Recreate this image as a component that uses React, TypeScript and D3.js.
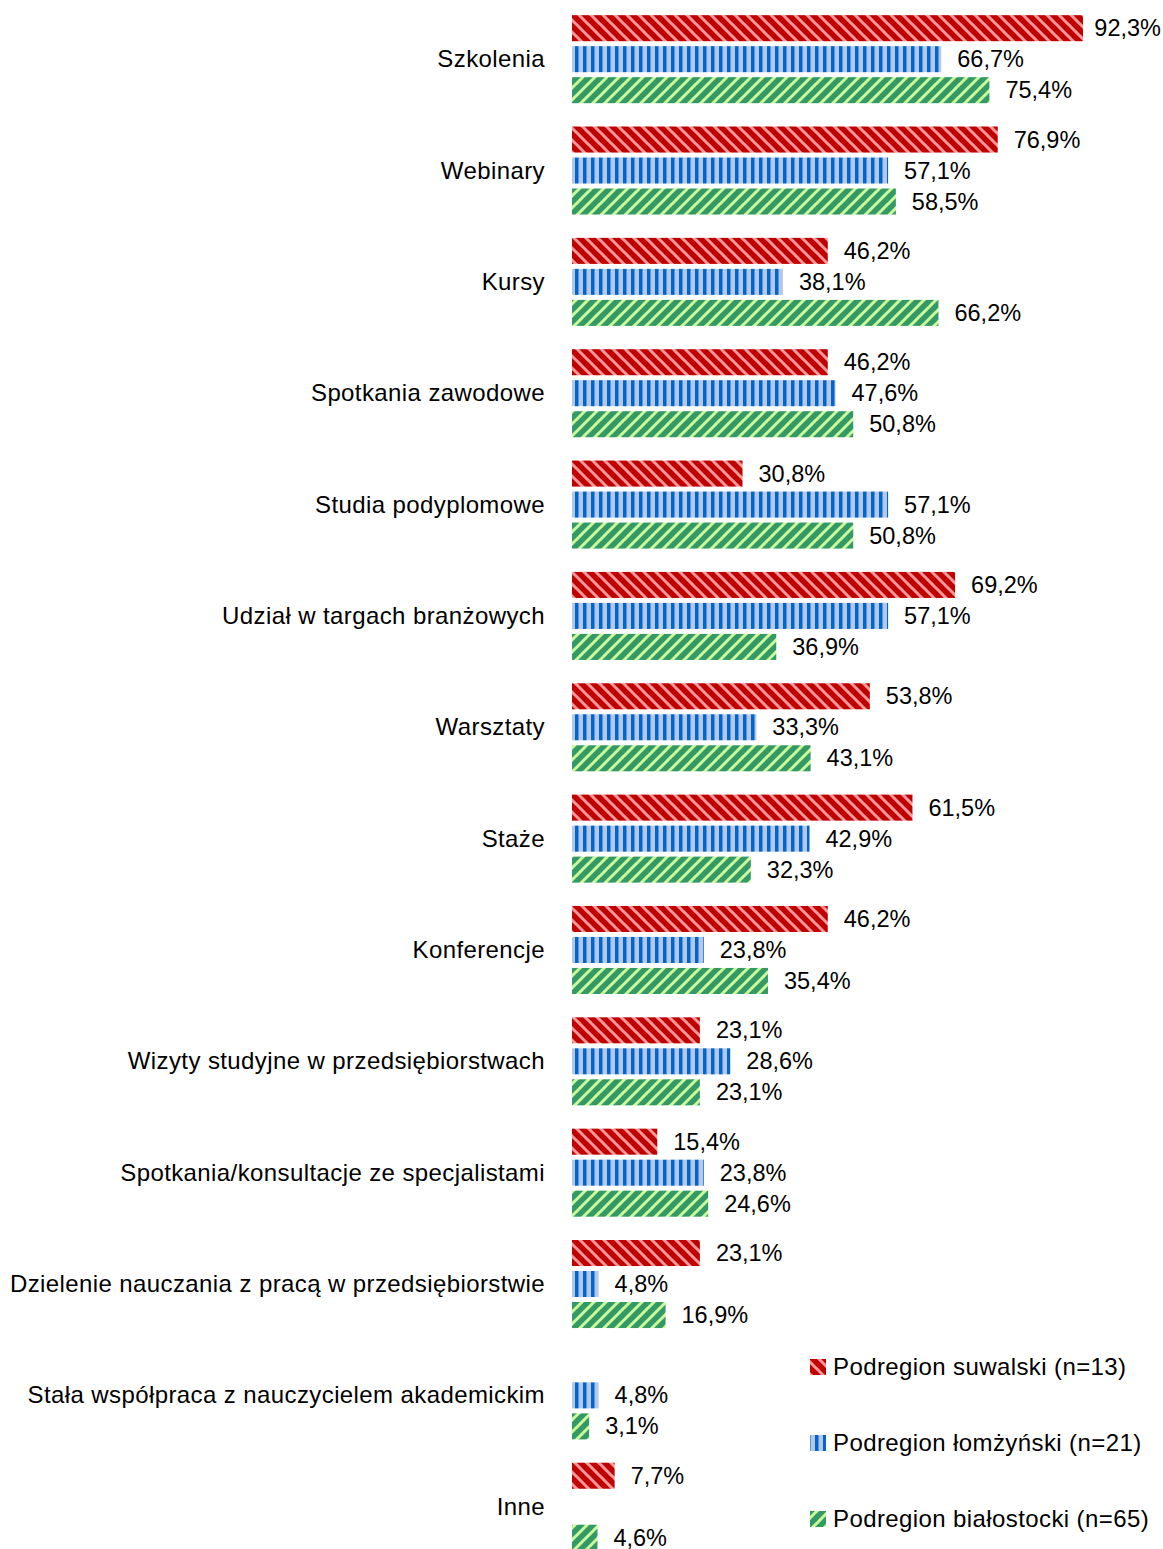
import React from "react";
import * as d3 from "d3";

const categories = [
  "Szkolenia",
  "Webinary",
  "Kursy",
  "Spotkania zawodowe",
  "Studia podyplomowe",
  "Udział w targach branżowych",
  "Warsztaty",
  "Staże",
  "Konferencje",
  "Wizyty studyjne w przedsiębiorstwach",
  "Spotkania/konsultacje ze specjalistami",
  "Dzielenie nauczania z pracą w przedsiębiorstwie",
  "Stała współpraca z nauczycielem akademickim",
  "Inne",
];

const series = [
  "Podregion suwalski (n=13)",
  "Podregion łomżyński (n=21)",
  "Podregion białostocki (n=65)",
];

const suwalski: (number | null)[] = [92.3, 76.9, 46.2, 46.2, 30.8, 69.2, 53.8, 61.5, 46.2, 23.1, 15.4, 23.1, null, 7.7];
const lomzynski: (number | null)[] = [66.7, 57.1, 38.1, 47.6, 57.1, 57.1, 33.3, 42.9, 23.8, 28.6, 23.8, 4.8, 4.8, null];
const bialostocki: (number | null)[] = [75.4, 58.5, 66.2, 50.8, 50.8, 36.9, 43.1, 32.3, 35.4, 23.1, 24.6, 16.9, 3.1, 4.6];

const seriesValues = [suwalski, lomzynski, bialostocki];
const patternIds = ["patRed", "patBlue", "patGreen"];

const W = 1163;
const H = 1549;
const FONT = "'Liberation Sans', Arial, sans-serif";
const FS = 23.5;
const LFS = 24;
const LSP = 0.4;

export default function App() {
  const x = d3.scaleLinear().domain([0, 100]).range([572, 572 + 553.6]);
  const y = d3.scaleBand<string>().domain(categories).range([3.5, 3.5 + 14 * 111.35]).padding(0);
  const inner = d3
    .scaleBand<number>()
    .domain([0, 1, 2])
    .range([-46.5, 46.5])
    .paddingInner(0.16)
    .paddingOuter(0.08);

  const fmt = (v: number) => v.toFixed(1).replace(".", ",") + "%";

  return (
    <svg
      width={W}
      height={H}
      style={{ position: "absolute", left: 0, top: 0, background: "#fff" }}
      fontFamily={FONT}
    >
      <defs>
        <pattern id="patRed" width={12} height={12} patternUnits="userSpaceOnUse">
          <rect width={12} height={12} fill="#C00000" />
          <path d="M-3,-3 L15,15 M-3,9 L3,15 M9,-3 L15,3" stroke="#FF9999" strokeWidth={3} />
        </pattern>
        <pattern id="patBlue" width={8} height={8} patternUnits="userSpaceOnUse" x={572}>
          <rect width={8} height={8} fill="#B4C7E7" />
          <rect x={3} width={3.5} height={8} fill="#0066CC" />
        </pattern>
        <pattern id="patGreen" width={12} height={12} patternUnits="userSpaceOnUse">
          <rect width={12} height={12} fill="#339966" />
          <path d="M-3,15 L15,-3 M-3,3 L3,-3 M9,15 L15,9" stroke="#CCFF99" strokeWidth={3} />
        </pattern>
      </defs>
      <rect width={W} height={H} fill="#fff" />
      {categories.map((c, i) => {
        const cy = (y(c) as number) + y.bandwidth() / 2;
        return (
          <g key={c}>
            <text
              x={545}
              y={cy + 8}
              textAnchor="end"
              fontSize={LFS}
              letterSpacing={LSP}
              fill="#000"
            >
              {c}
            </text>
            {seriesValues.map((vals, s) => {
              const v = vals[i];
              if (v === null) return null;
              const top = cy + (inner(s) as number);
              const end = x(v);
              const lx = end + 16;
              const overflow = lx + 68 > W - 2;
              return (
                <g key={s}>
                  <rect
                    x={x(0)}
                    y={top}
                    width={end - x(0)}
                    height={inner.bandwidth()}
                    fill={`url(#${patternIds[s]})`}
                  />
                  <text
                    x={overflow ? W - 2 : lx}
                    y={top + inner.bandwidth() / 2 + 8}
                    textAnchor={overflow ? "end" : "start"}
                    fontSize={FS}
                    fill="#000"
                  >
                    {fmt(v)}
                  </text>
                </g>
              );
            })}
          </g>
        );
      })}
      {series.map((s, k) => {
        const ly = 1367 + k * 76;
        return (
          <g key={s}>
            <rect x={810} y={ly - 8} width={16} height={16} fill={`url(#${patternIds[k]})`} />
            <text x={833} y={ly + 8} fontSize={LFS} letterSpacing={LSP} fill="#000">
              {s}
            </text>
          </g>
        );
      })}
    </svg>
  );
}
